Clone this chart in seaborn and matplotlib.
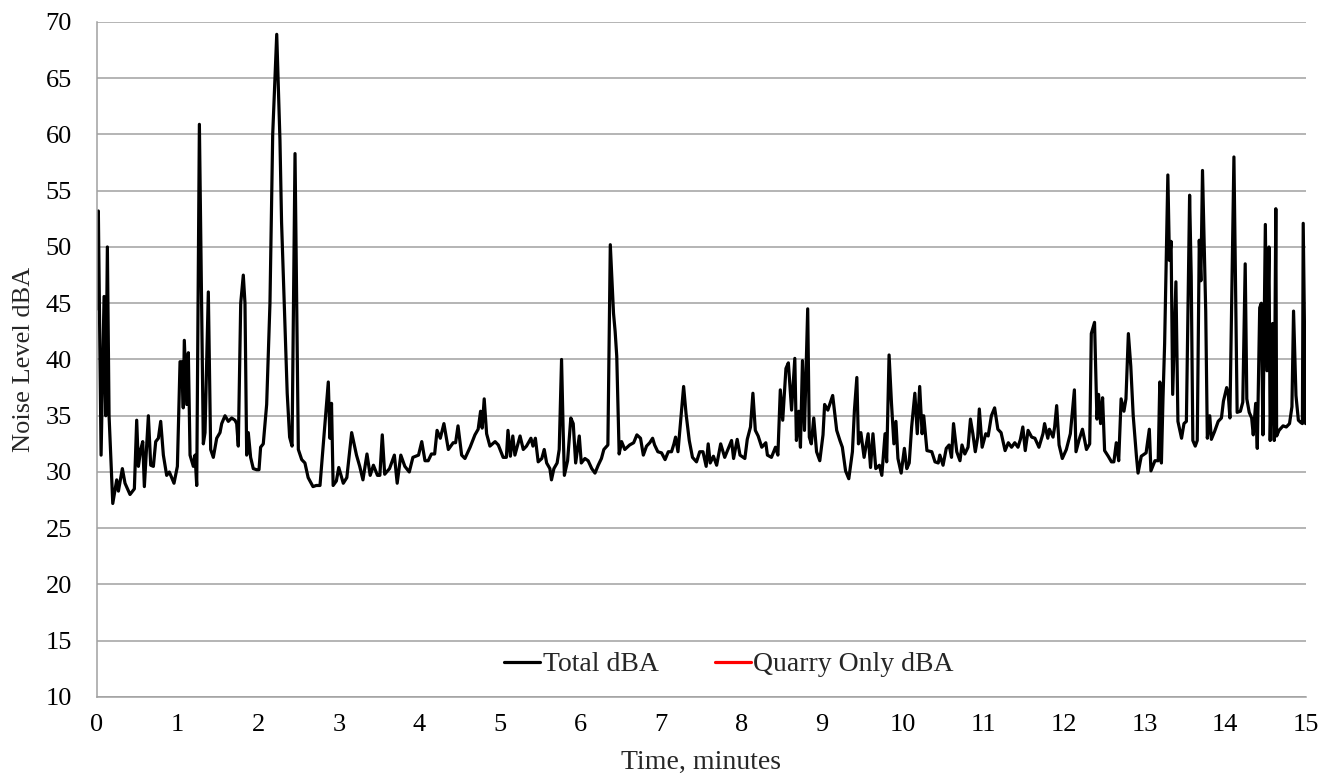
import matplotlib
matplotlib.use("Agg")
import matplotlib.pyplot as plt
from matplotlib.ticker import MultipleLocator
import seaborn as sns
import pandas as pd

# --- values (time in minutes, level in dBA) ---
time_min = [
    0.0, 0.016, 0.05, 0.087, 0.108, 0.128, 0.149, 0.195, 0.244, 0.265,
    0.314, 0.347, 0.409, 0.463, 0.492, 0.513, 0.542, 0.567, 0.587, 0.637,
    0.666, 0.699, 0.728, 0.761, 0.79, 0.823, 0.864, 0.897, 0.955, 0.997,
    1.03, 1.05, 1.07, 1.083, 1.113, 1.133, 1.154, 1.195, 1.216, 1.237,
    1.27, 1.319, 1.34, 1.381, 1.41, 1.443, 1.485, 1.526, 1.547, 1.588,
    1.629, 1.671, 1.712, 1.733, 1.753, 1.783, 1.815, 1.836, 1.857, 1.877,
    1.906, 1.939, 1.981, 2.01, 2.03, 2.063, 2.105, 2.146, 2.18, 2.23,
    2.27, 2.29, 2.33, 2.36, 2.39, 2.42, 2.457, 2.498, 2.54, 2.58,
    2.62, 2.68, 2.72, 2.767, 2.81, 2.87, 2.89, 2.91, 2.93, 2.97,
    3.0, 3.056, 3.1, 3.16, 3.22, 3.26, 3.3, 3.35, 3.39, 3.43,
    3.48, 3.51, 3.54, 3.57, 3.63, 3.69, 3.725, 3.77, 3.82, 3.875,
    3.92, 3.99, 4.03, 4.07, 4.11, 4.15, 4.19, 4.22, 4.26, 4.305,
    4.36, 4.42, 4.45, 4.48, 4.525, 4.566, 4.63, 4.69, 4.73, 4.76,
    4.78, 4.805, 4.835, 4.876, 4.94, 4.98, 5.04, 5.08, 5.1, 5.13,
    5.16, 5.186, 5.25, 5.29, 5.33, 5.385, 5.41, 5.44, 5.475, 5.52,
    5.55, 5.58, 5.62, 5.64, 5.67, 5.71, 5.736, 5.765, 5.785, 5.8,
    5.84, 5.88, 5.91, 5.94, 5.985, 6.01, 6.055, 6.095, 6.14, 6.18,
    6.22, 6.26, 6.29, 6.34, 6.37, 6.41, 6.43, 6.45, 6.48, 6.51,
    6.55, 6.61, 6.66, 6.7, 6.745, 6.78, 6.82, 6.86, 6.895, 6.92,
    6.96, 7.006, 7.05, 7.09, 7.13, 7.16, 7.18, 7.21, 7.24, 7.28,
    7.31, 7.35, 7.39, 7.44, 7.48, 7.52, 7.56, 7.585, 7.61, 7.65,
    7.69, 7.74, 7.79, 7.83, 7.875, 7.9, 7.945, 7.98, 8.04, 8.07,
    8.11, 8.14, 8.17, 8.205, 8.25, 8.3, 8.32, 8.37, 8.42, 8.45,
    8.48, 8.51, 8.55, 8.58, 8.62, 8.66, 8.68, 8.71, 8.73, 8.755,
    8.78, 8.82, 8.84, 8.865, 8.895, 8.93, 8.97, 9.01, 9.03, 9.07,
    9.13, 9.18, 9.22, 9.25, 9.29, 9.33, 9.375, 9.4, 9.43, 9.45,
    9.48, 9.52, 9.57, 9.6, 9.63, 9.665, 9.71, 9.74, 9.78, 9.8,
    9.83, 9.86, 9.89, 9.915, 9.94, 9.98, 10.02, 10.05, 10.08, 10.11,
    10.15, 10.18, 10.21, 10.24, 10.26, 10.3, 10.36, 10.4, 10.44, 10.46,
    10.5, 10.54, 10.575, 10.605, 10.63, 10.67, 10.71, 10.735, 10.77, 10.81,
    10.84, 10.87, 10.9, 10.93, 10.95, 10.985, 11.03, 11.06, 11.1, 11.14,
    11.18, 11.22, 11.27, 11.31, 11.35, 11.39, 11.43, 11.46, 11.49, 11.52,
    11.555, 11.6, 11.64, 11.69, 11.74, 11.76, 11.8, 11.82, 11.865, 11.885,
    11.91, 11.94, 11.98, 12.03, 12.08, 12.13, 12.15, 12.19, 12.23, 12.25,
    12.28, 12.32, 12.34, 12.38, 12.41, 12.43, 12.455, 12.48, 12.505, 12.55,
    12.59, 12.62, 12.65, 12.68, 12.71, 12.745, 12.77, 12.8, 12.83, 12.86,
    12.9, 12.92, 12.96, 13.02, 13.06, 13.08, 13.13, 13.17, 13.19, 13.21,
    13.23, 13.25, 13.29, 13.31, 13.33, 13.35, 13.39, 13.415, 13.46, 13.49,
    13.52, 13.56, 13.58, 13.6, 13.63, 13.655, 13.68, 13.7, 13.72, 13.76,
    13.78, 13.81, 13.83, 13.87, 13.915, 13.955, 13.98, 14.02, 14.04, 14.06,
    14.11, 14.13, 14.15, 14.19, 14.22, 14.25, 14.27, 14.3, 14.33, 14.35,
    14.38, 14.4, 14.43, 14.45, 14.47, 14.5, 14.52, 14.545, 14.56, 14.59,
    14.61, 14.63, 14.64, 14.67, 14.72, 14.76, 14.8, 14.83, 14.85, 14.88,
    14.91, 14.94, 14.96, 14.97, 15.0,
]
total_dba = [
    44.5, 53.2, 31.5, 45.6, 35.0, 50.0, 35.0, 27.2, 29.3, 28.3,
    30.3, 29.0, 28.0, 28.5, 34.6, 30.5, 32.0, 32.7, 28.7, 35.0,
    30.6, 30.5, 32.7, 33.0, 34.5, 31.5, 29.7, 30.0, 29.0, 30.5,
    39.8, 39.8, 35.7, 41.7, 36.0, 40.6, 31.5, 30.5, 31.5, 28.8,
    60.9, 32.5, 33.5, 46.0, 32.0, 31.3, 33.0, 33.5, 34.3, 35.0,
    34.5, 34.8, 34.6, 34.3, 32.3, 45.0, 47.5, 45.0, 31.5, 33.5,
    31.3, 30.3, 30.2, 30.2, 32.2, 32.5, 36.0, 45.0, 60.0, 68.9,
    59.5, 52.2, 43.5, 37.0, 33.1, 32.3, 58.3, 32.0, 31.1, 30.8,
    29.5, 28.7, 28.8, 28.8, 32.6, 38.0, 33.0, 36.1, 28.8, 29.2,
    30.4, 29.0, 29.5, 33.5, 31.5, 30.5, 29.3, 31.6, 29.7, 30.6,
    29.7, 29.7, 33.3, 29.8, 30.3, 31.5, 29.0, 31.5, 30.5, 30.0,
    31.3, 31.5, 32.7, 31.0, 31.0, 31.6, 31.6, 33.7, 33.0, 34.3,
    32.0, 32.6, 32.6, 34.1, 31.5, 31.2, 32.2, 33.3, 33.8, 35.4,
    33.9, 36.5, 33.4, 32.3, 32.7, 32.4, 31.3, 31.3, 33.7, 31.4,
    33.2, 31.5, 33.2, 32.0, 32.3, 33.0, 32.3, 33.0, 30.9, 31.2,
    32.0, 30.8, 30.3, 29.3, 30.3, 30.8, 32.0, 40.0, 33.7, 29.7,
    31.0, 34.8, 34.3, 30.8, 33.2, 30.8, 31.2, 31.0, 30.3, 29.9,
    30.6, 31.2, 32.0, 32.4, 50.2, 44.1, 42.5, 40.3, 31.6, 32.7,
    32.0, 32.4, 32.6, 33.3, 33.0, 31.5, 32.3, 32.6, 33.0, 32.4,
    31.8, 31.7, 31.1, 31.8, 31.8, 32.5, 33.1, 31.8, 34.3, 37.6,
    35.2, 32.8, 31.3, 30.9, 31.8, 31.8, 30.5, 32.5, 30.8, 31.4,
    30.6, 32.5, 31.3, 32.0, 32.8, 31.2, 32.9, 31.5, 31.2, 32.9,
    34.0, 37.0, 33.7, 33.2, 32.2, 32.6, 31.5, 31.3, 32.2, 31.5,
    37.3, 34.6, 39.2, 39.7, 35.5, 40.1, 32.8, 35.4, 32.2, 39.9,
    33.7, 44.5, 33.1, 32.5, 34.8, 31.8, 31.0, 33.3, 36.0, 35.5,
    36.8, 33.7, 32.8, 32.2, 30.1, 29.4, 31.8, 35.5, 38.4, 32.5,
    33.5, 31.3, 33.4, 30.4, 33.4, 30.3, 30.6, 29.7, 33.4, 30.9,
    40.4, 36.1, 32.5, 34.5, 31.2, 29.9, 32.1, 30.3, 30.8, 34.0,
    37.0, 33.4, 37.6, 33.4, 35.0, 31.9, 31.8, 30.9, 30.8, 31.5,
    30.6, 32.1, 32.4, 31.3, 34.3, 31.8, 31.0, 32.4, 31.6, 32.2,
    34.7, 33.4, 31.8, 33.1, 35.6, 32.2, 33.4, 33.2, 35.0, 35.7,
    33.8, 33.5, 31.9, 32.6, 32.2, 32.6, 32.2, 32.9, 34.0, 31.9,
    33.7, 33.1, 33.0, 32.2, 33.4, 34.3, 33.0, 33.8, 33.1, 34.0,
    35.9, 32.4, 31.2, 32.0, 33.4, 37.3, 31.8, 32.9, 33.8, 33.1,
    32.0, 32.5, 42.3, 43.3, 34.7, 36.9, 34.3, 36.6, 31.9, 31.4,
    30.9, 30.9, 32.6, 31.0, 36.5, 35.4, 36.5, 42.3, 39.4, 35.0,
    31.4, 29.9, 31.4, 31.7, 33.8, 30.1, 31.0, 31.0, 38.0, 30.8,
    36.6, 41.4, 56.4, 48.8, 50.5, 36.9, 46.9, 34.5, 33.0, 34.3,
    34.5, 54.6, 47.4, 32.8, 32.3, 32.8, 50.6, 47.0, 56.8, 44.3,
    33.0, 35.0, 32.9, 33.6, 34.5, 34.8, 36.3, 37.5, 36.9, 34.8,
    58.0, 46.8, 35.3, 35.4, 36.2, 48.5, 36.5, 35.3, 34.8, 33.3,
    36.1, 32.1, 44.6, 45.0, 33.3, 52.0, 39.0, 50.0, 32.8, 43.2,
    32.8, 53.4, 33.2, 33.7, 34.1, 34.0, 34.3, 35.8, 44.3, 36.8,
    34.6, 34.4, 34.3, 52.1, 34.3,
]
# quarry-only series shows in the legend but has no visible trace
quarry_time = []
quarry_dba = []

series_names = ['Total dBA', 'Quarry Only dBA']
x_ticks = list(range(0, 16))
y_ticks = list(range(10, 75, 5))

df = pd.DataFrame({'Time': time_min, 'dBA': total_dba})

sns.set_style("white")
plt.rcParams['font.family'] = ['Liberation Serif', 'DejaVu Serif']

fig, ax = plt.subplots(figsize=(13.35, 7.74), dpi=100)
fig.subplots_adjust(left=0.0727, right=0.978, top=0.9716, bottom=0.0995)

grey = '#a0a0a0'
ax.set_axisbelow(True)
ax.yaxis.grid(True, color=grey, linewidth=1.1)
ax.xaxis.grid(False)

sns.lineplot(data=df, x='Time', y='dBA', ax=ax, color='black',
             linewidth=2.3, estimator=None, sort=False, label=series_names[0])
ax.plot(quarry_time, quarry_dba, color='#ff0000', linewidth=2.3,
        label=series_names[1])

ax.set_xlim(0, 15)
ax.set_ylim(10, 70)
ax.set_xticks(x_ticks)
ax.xaxis.set_minor_locator(MultipleLocator(0.5))
ax.set_yticks(y_ticks)

for side in ['top', 'right']:
    ax.spines[side].set_visible(False)
for side in ['left', 'bottom']:
    ax.spines[side].set_color(grey)
    ax.spines[side].set_linewidth(1.1)

ax.tick_params(axis='both', which='both', direction='out', color=grey,
               width=1.1, labelsize=19, labelcolor='black')
ax.tick_params(axis='x', which='both', length=6, pad=6)
ax.tick_params(axis='y', which='major', length=6, pad=12)

ax.set_xlabel('Time, minutes', fontsize=20, labelpad=10)
ax.set_ylabel('Noise Level dBA', fontsize=19, labelpad=8)

ax.legend(loc='lower center', bbox_to_anchor=(0.523, -0.008), ncol=2,
          frameon=False, fontsize=20, handlelength=1.3, handletextpad=0.1,
          columnspacing=2.0)

plt.savefig('out.png', dpi=100)
